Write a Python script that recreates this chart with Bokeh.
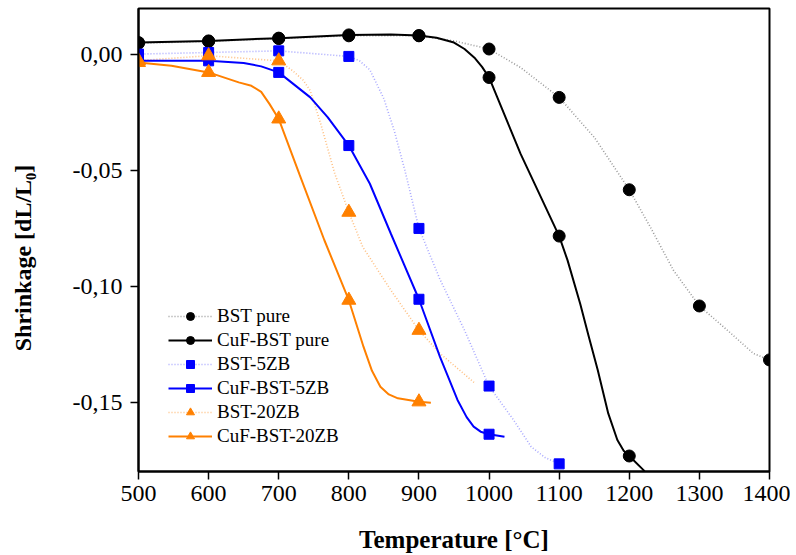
from bokeh.plotting import figure
from bokeh.models import Range1d, FixedTicker, CustomJSTickFormatter, Legend, LegendItem
from bokeh.embed import file_html
from bokeh.resources import INLINE

# ---- measured points (markers) ----
temperature = [500, 600, 700, 800, 900, 1000, 1100, 1200, 1300, 1400]

bst_pure = [0.0050, 0.0058, 0.0070, 0.0082, 0.0082, 0.0025, -0.0184, -0.0583, -0.1085, -0.1318]
cuf_bst_pure = [0.0053, 0.0060, 0.0072, 0.0086, 0.0083, -0.0098, -0.0783, -0.1733]
bst_5zb = [0.0003, 0.0010, 0.0017, -0.0007, -0.0750, -0.1431, -0.1767]
cuf_bst_5zb = [-0.0026, -0.0026, -0.0076, -0.0392, -0.1056, -0.1639]
bst_20zb = [-0.0025, -0.0004, -0.0026, -0.0680, -0.1190]
cuf_bst_20zb = [-0.0033, -0.0076, -0.0277, -0.1060, -0.1499]

# ---- smoothed curves ----
bst_pure_curve_t = [500, 600, 700, 800, 900, 950, 1000, 1045, 1100, 1150, 1200, 1230, 1263, 1300, 1340, 1377, 1400]
bst_pure_curve = [0.0050, 0.0058, 0.0070, 0.0082, 0.0082, 0.0060, 0.0025, -0.0055, -0.0184, -0.0356, -0.0583,
                  -0.0744, -0.0931, -0.1085, -0.1190, -0.1290, -0.1318]

cuf_pure_curve_t = [500, 600, 700, 800, 860, 900, 925, 950, 965, 980, 990, 1000, 1045, 1100, 1112, 1130, 1142,
                    1155, 1170, 1183, 1192, 1200, 1220, 1235]
cuf_pure_curve = [0.0053, 0.0060, 0.0072, 0.0086, 0.0088, 0.0083, 0.0074, 0.0053, 0.0025, -0.0015, -0.0052,
                  -0.0098, -0.0428, -0.0783, -0.0888, -0.1075, -0.1215, -0.1362, -0.1549, -0.1664, -0.1710,
                  -0.1733, -0.1793, -0.1850]

bst_5zb_curve_t = [500, 600, 700, 800, 815, 830, 850, 865, 880, 900, 930, 965, 1000, 1035, 1060, 1080, 1100]
bst_5zb_curve = [0.0003, 0.0010, 0.0017, -0.0007, -0.0025, -0.0065, -0.0190, -0.0330, -0.0500, -0.0750,
                 -0.0970, -0.1190, -0.1431, -0.1578, -0.1693, -0.1740, -0.1767]

cuf_5zb_curve_t = [500, 600, 650, 675, 700, 745, 770, 800, 830, 860, 900, 930, 955, 968, 978, 988, 1000, 1022]
cuf_5zb_curve = [-0.0026, -0.0026, -0.0035, -0.0050, -0.0076, -0.0184, -0.0270, -0.0392, -0.0557, -0.0773,
                 -0.1056, -0.1305, -0.1491, -0.1565, -0.1606, -0.1628, -0.1639, -0.1650]

bst_20zb_curve_t = [500, 600, 700, 720, 735, 745, 760, 780, 800, 820, 860, 900, 930, 980]
bst_20zb_curve = [-0.0025, -0.0004, -0.0026, -0.0069, -0.0110, -0.0155, -0.0299, -0.0514, -0.0680, -0.0831,
                  -0.1017, -0.1190, -0.1290, -0.1419]

cuf_20zb_curve_t = [500, 547, 600, 643, 661, 675, 687, 700, 730, 765, 800, 821, 833, 845, 857, 870, 900, 917]
cuf_20zb_curve = [-0.0033, -0.0047, -0.0076, -0.0119, -0.0134, -0.0160, -0.0213, -0.0277, -0.0520, -0.0800,
                  -0.1060, -0.1262, -0.1365, -0.1434, -0.1467, -0.1484, -0.1499, -0.1503]

x_ticks = [500, 600, 700, 800, 900, 1000, 1100, 1200, 1300, 1400]
y_ticks = [-0.15, -0.10, -0.05, 0.0]

FONT = "Liberation Serif"
BLACK = "#000000"
BLUE = "#0000ff"
ORANGE = "#ff8000"

p = figure(width=790, height=555, output_backend="svg", toolbar_location=None,
           x_range=Range1d(500, 1400), y_range=Range1d(-0.18, 0.02),
           min_border_left=138, min_border_right=21, min_border_top=8, min_border_bottom=84)
p.xgrid.visible = False
p.ygrid.visible = False
p.outline_line_color = BLACK
p.outline_line_width = 2
p.background_fill_color = "white"

# dotted (BST) curves
r_bst_l = p.line(bst_pure_curve_t, bst_pure_curve, line_color="#9a9a9a", line_width=1.6, line_dash="1 2")
r_5_l = p.line(bst_5zb_curve_t, bst_5zb_curve, line_color="#a8a8ff", line_width=1.6, line_dash="1 2")
r_20_l = p.line(bst_20zb_curve_t, bst_20zb_curve, line_color="#ffbf80", line_width=1.6, line_dash="1 2")

# solid (CuF) curves
r_cbst_l = p.line(cuf_pure_curve_t, cuf_pure_curve, line_color=BLACK, line_width=2)
r_c5_l = p.line(cuf_5zb_curve_t, cuf_5zb_curve, line_color=BLUE, line_width=2)
r_c20_l = p.line(cuf_20zb_curve_t, cuf_20zb_curve, line_color=ORANGE, line_width=2)

# markers
r_bst_m = p.scatter(temperature[:len(bst_pure)], bst_pure, marker="circle", size=12,
                    fill_color=BLACK, line_color=BLACK)
r_cbst_m = p.scatter(temperature[:len(cuf_bst_pure)], cuf_bst_pure, marker="circle", size=12,
                     fill_color=BLACK, line_color=BLACK)
r_5_m = p.scatter(temperature[:len(bst_5zb)], bst_5zb, marker="square", size=10,
                  fill_color=BLUE, line_color=BLUE)
r_c5_m = p.scatter(temperature[:len(cuf_bst_5zb)], cuf_bst_5zb, marker="square", size=10,
                   fill_color=BLUE, line_color=BLUE)
r_20_m = p.scatter(temperature[:len(bst_20zb)], bst_20zb, marker="triangle", size=14,
                   fill_color=ORANGE, line_color=ORANGE)
r_c20_m = p.scatter(temperature[:len(cuf_bst_20zb)], cuf_bst_20zb, marker="triangle", size=14,
                    fill_color=ORANGE, line_color=ORANGE)

legend = Legend(items=[
    LegendItem(label="BST pure", renderers=[r_bst_l, r_bst_m]),
    LegendItem(label="CuF-BST pure", renderers=[r_cbst_l, r_cbst_m]),
    LegendItem(label="BST-5ZB", renderers=[r_5_l, r_5_m]),
    LegendItem(label="CuF-BST-5ZB", renderers=[r_c5_l, r_c5_m]),
    LegendItem(label="BST-20ZB", renderers=[r_20_l, r_20_m]),
    LegendItem(label="CuF-BST-20ZB", renderers=[r_c20_l, r_c20_m]),
], location=(20, 14), glyph_width=44, glyph_height=20, spacing=2, label_standoff=5,
   label_text_font=FONT, label_text_font_size="19px", label_text_color=BLACK,
   border_line_alpha=0, background_fill_alpha=0, padding=10)
p.add_layout(legend)

# axes
p.xaxis.ticker = FixedTicker(ticks=x_ticks, minor_ticks=[])
p.yaxis.ticker = FixedTicker(ticks=y_ticks, minor_ticks=[])
p.yaxis.formatter = CustomJSTickFormatter(code="return tick.toFixed(2).replace('.', ',');")
for ax in (p.xaxis[0], p.yaxis[0]):
    ax.axis_line_color = BLACK
    ax.axis_line_width = 2
    ax.major_tick_line_color = BLACK
    ax.major_tick_line_width = 1.5
    ax.major_tick_out = 8
    ax.major_tick_in = 0
    ax.minor_tick_line_color = None
    ax.major_label_text_font = FONT
    ax.major_label_text_font_size = "24px"
    ax.major_label_text_color = BLACK
    ax.axis_label_text_font = FONT
    ax.axis_label_text_font_style = "bold"
    ax.axis_label_text_color = BLACK

p.xaxis.axis_label = "Temperature [°C]"
p.xaxis.axis_label_text_font_size = "25px"
p.xaxis.major_label_standoff = 6
p.xaxis.axis_label_standoff = 22

p.yaxis.axis_label = "Shrinkage [dL/L₀]" + "\u00a0" * 6
p.yaxis.axis_label_text_font_size = "24px"
p.yaxis.major_label_standoff = 8
p.yaxis.axis_label_standoff = 34

open("out.html", "w").write(file_html(p, INLINE))
